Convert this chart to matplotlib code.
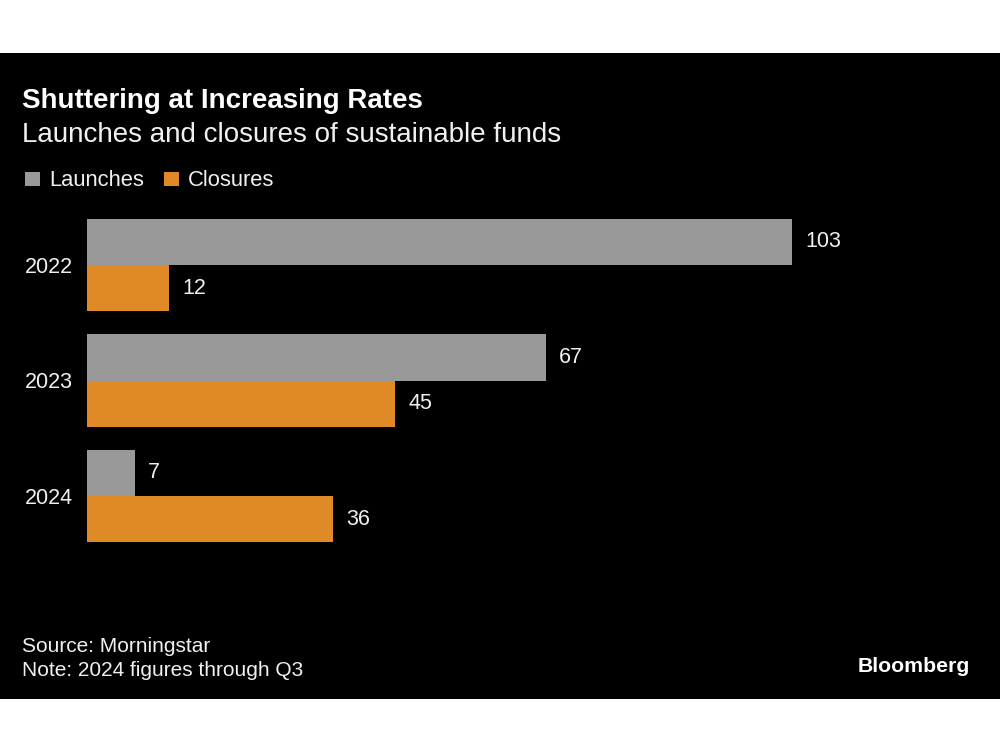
import matplotlib.pyplot as plt
import matplotlib.patches as patches
import numpy as np

plt.rcParams['font.family'] = ['Liberation Sans', 'DejaVu Sans']

# datos
years = ['2022', '2023', '2024']
launches = [103, 67, 7]
closures = [12, 45, 36]

gray = '#999999'
orange = '#E08A27'
txt = '#F0F0F0'

W, H = 1000, 750
fig = plt.figure(figsize=(10, 7.5), dpi=100, facecolor='white')

# panel negro
fig.patches.append(patches.Rectangle((0, 1 - 699 / H), 1, (699 - 53) / H,
                                     transform=fig.transFigure, facecolor='black',
                                     edgecolor='none', zorder=-5))

# ejes en pixeles
left_px, right_px = 87, 950
top_px, bot_px = 207.25, 553.75
ax = fig.add_axes([left_px / W, 1 - bot_px / H, (right_px - left_px) / W, (bot_px - top_px) / H])
ax.set_facecolor('none')
ax.set_zorder(3)

y = np.arange(len(years))
h = 0.4
ax.barh(y - h / 2, launches, height=h, color=gray)
ax.barh(y + h / 2, closures, height=h, color=orange)

xmax = 103 * (right_px - left_px) / (792 - left_px)
ax.set_xlim(0, xmax)
ax.set_ylim(2.5, -0.5)

for i in range(len(years)):
    ax.annotate(str(launches[i]), (launches[i], y[i] - h / 2), xytext=(9.5, 0),
                textcoords='offset points', va='center', ha='left', color=txt, fontsize=15.5)
    ax.annotate(str(closures[i]), (closures[i], y[i] + h / 2), xytext=(9.5, 0),
                textcoords='offset points', va='center', ha='left', color=txt, fontsize=15.5)

ax.set_yticks(y)
ax.set_yticklabels(years, color=txt, fontsize=15.5)
ax.tick_params(axis='y', length=0, pad=10)
ax.set_xticks([])
for s in ax.spines.values():
    s.set_visible(False)

# titulos
fig.text(22 / W, 1 - 107.5 / H, 'Shuttering at Increasing Rates', color='white',
         fontsize=20, fontweight='bold', va='baseline', ha='left')
fig.text(22 / W, 1 - 141.5 / H, 'Launches and closures of sustainable funds', color=txt,
         fontsize=20, va='baseline', ha='left')

# leyenda
fig.patches.append(patches.Rectangle((25 / W, 1 - 186 / H), 15 / W, 14 / H,
                                     transform=fig.transFigure, facecolor=gray, edgecolor='none'))
fig.text(49 / W, 1 - 186 / H, 'Launches', color=txt, fontsize=15.8, va='baseline', ha='left')
fig.patches.append(patches.Rectangle((164 / W, 1 - 186 / H), 15 / W, 14 / H,
                                     transform=fig.transFigure, facecolor=orange, edgecolor='none'))
fig.text(188 / W, 1 - 186 / H, 'Closures', color=txt, fontsize=15.8, va='baseline', ha='left')

# notas
fig.text(22 / W, 1 - 652.5 / H, 'Source: Morningstar', color=txt, fontsize=15, va='baseline', ha='left')
fig.text(22 / W, 1 - 675.5 / H, 'Note: 2024 figures through Q3', color=txt, fontsize=15,
         va='baseline', ha='left')
fig.text(970 / W, 1 - 671.5 / H, 'Bloomberg', color='white', fontsize=15.3, fontweight='bold',
         va='baseline', ha='right')

fig.savefig('out.png', dpi=100, facecolor=fig.get_facecolor())
